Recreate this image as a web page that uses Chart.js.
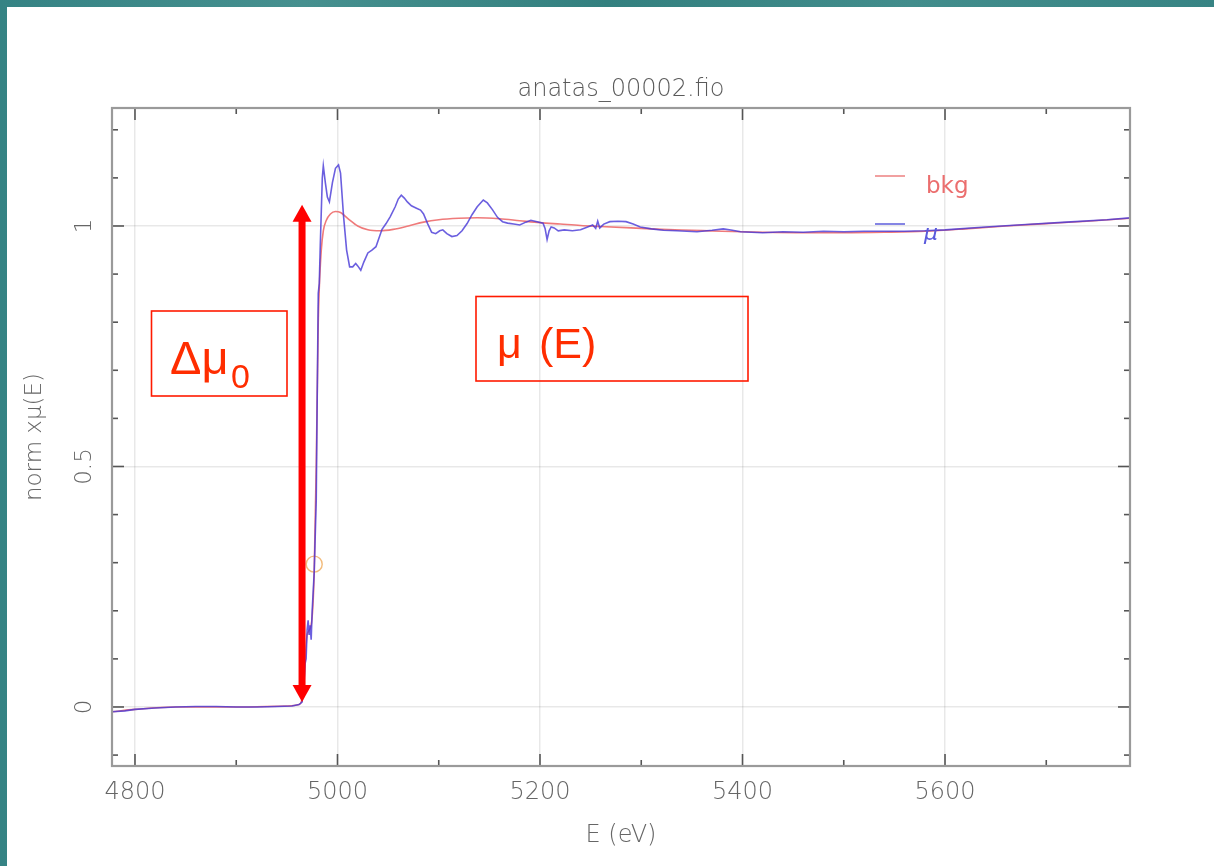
<!DOCTYPE html>
<html><head><meta charset="utf-8">
<script src="https://cdn.jsdelivr.net/npm/chart.js@4.4.1/dist/chart.umd.min.js"></script>
<style>
html,body{margin:0;padding:0;width:1214px;height:866px;overflow:hidden;}
body{background:linear-gradient(90deg,#358384 0%,#46908f 25%,#33807f 50%,#428d8c 75%,#378484 100%);}
#card{position:absolute;left:7px;top:7px;width:1207px;height:859px;background:#fff;}
#c{position:absolute;left:0;top:0;}
</style></head><body>
<div id="card"></div>
<canvas id="c" width="1214" height="866"></canvas>
<script>
// ---- data ----
const muEnergy = [4777,4790,4800,4820,4840,4860,4880,4900,4920,4940,4955,4962,4965,4967,4968,4969,4970,4971,4972,4973,4974,4975,4977,4979,4980,4981,4982,4983,4985,4986,4988,4990,4992,4995,4998,5001,5003,5006,5009,5012,5015,5018,5020,5023,5026,5030,5034,5038,5041,5044,5048,5052,5057,5060,5063,5066,5069,5073,5078,5082,5085,5089,5093,5097,5101,5104,5108,5113,5118,5123,5128,5133,5138,5144,5148,5153,5158,5163,5168,5174,5180,5186,5191,5197,5203,5205,5207,5209,5211,5214,5218,5224,5232,5240,5247,5252,5255,5257,5259,5263,5269,5277,5285,5292,5299,5310,5322,5335,5355,5370,5381,5390,5398,5420,5440,5460,5480,5500,5520,5540,5560,5580,5600,5640,5680,5720,5760,5783];
const muValues = [-0.010,-0.008,-0.005,-0.002,0.000,0.001,0.001,0.000,0.000,0.001,0.002,0.005,0.010,0.05,0.09,0.10,0.16,0.18,0.15,0.17,0.14,0.20,0.28,0.43,0.65,0.86,0.88,0.96,1.10,1.125,1.09,1.06,1.05,1.09,1.12,1.127,1.11,1.02,0.95,0.915,0.915,0.922,0.917,0.908,0.925,0.944,0.950,0.957,0.975,0.993,1.005,1.019,1.040,1.056,1.064,1.058,1.050,1.042,1.037,1.033,1.025,1.005,0.987,0.984,0.990,0.992,0.984,0.978,0.980,0.990,1.005,1.024,1.040,1.054,1.048,1.034,1.018,1.009,1.006,1.004,1.002,1.008,1.012,1.009,1.006,0.995,0.972,0.990,0.998,0.996,0.990,0.992,0.990,0.992,0.998,1.002,0.995,1.010,0.996,1.004,1.009,1.010,1.009,1.004,0.998,0.994,0.991,0.990,0.988,0.991,0.994,0.991,0.988,0.986,0.988,0.987,0.989,0.988,0.989,0.989,0.989,0.990,0.992,0.998,1.003,1.008,1.013,1.017];
const bkgEnergy = [4777,4800,4840,4900,4950,4962,4966,4970,4974,4977,4979,4981,4982,4984,4986,4989,4993,4998,5003,5010,5020,5030,5042,5055,5070,5085,5100,5120,5138,5160,5180,5200,5220,5240,5260,5290,5320,5350,5380,5420,5460,5500,5540,5580,5620,5660,5700,5740,5783];
const bkgValues = [-0.010,-0.005,0.000,0.000,0.002,0.005,0.03,0.15,0.17,0.28,0.50,0.80,0.87,0.95,0.99,1.012,1.025,1.030,1.028,1.016,1.000,0.992,0.990,0.993,1.000,1.008,1.013,1.016,1.017,1.015,1.011,1.007,1.004,1.001,0.999,0.996,0.993,0.991,0.989,0.987,0.986,0.986,0.987,0.989,0.994,1.000,1.005,1.010,1.016];
const e0Energy = [4977];
const e0Value = [0.297];
const xTickValues = [4800,5000,5200,5400,5600];
const xTickLabels = ['4800','5000','5200','5400','5600'];
const xMinorValues = [4900,5100,5300,5500,5700];
const yTickValues = [0,0.5,1];
const yTickLabels = ['0','0.5','1'];
const yMinorValues = [-0.1,0.1,0.2,0.3,0.4,0.6,0.7,0.8,0.9,1.1,1.2];
const xRange = [4777.3,5782.7];
const yRange = [-0.1227,1.2453];
const titleText = 'anatas_00002.fio';
const xTitle = 'E (eV)';
const yTitle = 'norm x\u03bc(E)';
const seriesNames = ['\u03bc','bkg'];
const edgeArrow = {energy:4965, from:0.0104, to:1.044};

// ---- build ----
const toPts = (xs, ys) => xs.map((e,i)=>({x:e, y:ys[i]}));
const FONT = '"DejaVu Sans", sans-serif';

const framePlugin = {
  id:'frame',
  afterDatasetsDraw(chart){
    const {ctx, chartArea:a, scales:{x, y}} = chart;
    ctx.save();
    const line=(x1,y1,x2,y2)=>{ctx.beginPath();ctx.moveTo(x1,y1);ctx.lineTo(x2,y2);ctx.stroke();};
    ctx.strokeStyle='#555'; ctx.lineWidth=1.6;
    xTickValues.forEach(v=>{const p=x.getPixelForValue(v); line(p,a.bottom,p,a.bottom-12); line(p,a.top,p,a.top+12);});
    xMinorValues.forEach(v=>{const p=x.getPixelForValue(v); line(p,a.bottom,p,a.bottom-6); line(p,a.top,p,a.top+6);});
    yTickValues.forEach(v=>{const p=y.getPixelForValue(v); line(a.left,p,a.left+12,p); line(a.right,p,a.right-12,p);});
    yMinorValues.forEach(v=>{const p=y.getPixelForValue(v); line(a.left,p,a.left+6,p); line(a.right,p,a.right-6,p);});
    ctx.strokeStyle='#9a9a9a'; ctx.lineWidth=2.2;
    ctx.strokeRect(a.left,a.top,a.right-a.left,a.bottom-a.top);
    // rotated y tick labels
    ctx.fillStyle='#666'; ctx.font='200 23px '+FONT;
    ctx.textAlign='center'; ctx.textBaseline='middle';
    yTickValues.forEach((v,i)=>{
      const p=y.getPixelForValue(v);
      ctx.save(); ctx.translate(a.left-27,p); ctx.rotate(-Math.PI/2);
      ctx.fillText(yTickLabels[i],0,0); ctx.restore();
    });
    // title centred over the plot frame
    ctx.fillStyle='#5a5a5a'; ctx.font='200 24px '+FONT;
    ctx.textAlign='center'; ctx.textBaseline='middle';
    ctx.fillText(titleText,(a.left+a.right)/2,90);
    ctx.restore();
  }
};

const notePlugin = {
  id:'notes',
  afterDraw(chart){
    const {ctx, chartArea:a, scales:{x, y}} = chart;
    ctx.save();
    // legend
    const ds = chart.data.datasets;
    ctx.lineWidth=2;
    ctx.strokeStyle='rgba(240,150,150,0.9)';
    ctx.beginPath(); ctx.moveTo(875,176); ctx.lineTo(905,176); ctx.stroke();
    ctx.strokeStyle='rgba(120,120,225,0.9)';
    ctx.beginPath(); ctx.moveTo(875,224); ctx.lineTo(905,224); ctx.stroke();
    ctx.textAlign='left'; ctx.textBaseline='alphabetic';
    ctx.fillStyle='rgb(235,110,110)'; ctx.font='23px '+FONT;
    ctx.fillText(ds[1].label, 926, 193);
    ctx.fillStyle='rgb(90,90,220)'; ctx.font='italic 22px '+FONT;
    ctx.fillText(ds[0].label, 924, 240);

    // edge-step double arrow
    const ax = x.getPixelForValue(edgeArrow.energy);
    const yt = y.getPixelForValue(edgeArrow.to);
    const yb = y.getPixelForValue(edgeArrow.from);
    ctx.fillStyle='#ff0000';
    ctx.fillRect(ax-3.5, yt+15, 7, (yb-yt)-30);
    ctx.beginPath(); ctx.moveTo(ax,yt); ctx.lineTo(ax-9.5,yt+17); ctx.lineTo(ax+9.5,yt+17); ctx.closePath(); ctx.fill();
    ctx.beginPath(); ctx.moveTo(ax,yb); ctx.lineTo(ax-9.5,yb-17); ctx.lineTo(ax+9.5,yb-17); ctx.closePath(); ctx.fill();

    // boxes
    ctx.strokeStyle='#ff1a00'; ctx.lineWidth=1.6;
    ctx.strokeRect(151.5,311,135.5,85);
    ctx.strokeRect(476,296.5,272,84.5);
    ctx.fillStyle='rgb(255,45,0)';
    ctx.font='47px "Liberation Sans", Arial, sans-serif';
    ctx.fillText('\u0394\u03bc', 170, 374);
    ctx.font='34px "Liberation Sans", Arial, sans-serif';
    ctx.fillText('0', 231, 388);
    ctx.font='43px "Liberation Sans", Arial, sans-serif';
    ctx.fillText('\u03bc', 497, 358);
    ctx.fillText('(E)', 539, 358);
    ctx.restore();
  }
};

new Chart(document.getElementById('c'), {
  type:'scatter',
  data:{
    datasets:[
      {label:seriesNames[0], data:toPts(muEnergy,muValues), showLine:true, borderColor:'rgba(70,55,215,0.8)', borderWidth:1.6, pointRadius:0, tension:0, order:0},
      {label:seriesNames[1], data:toPts(bkgEnergy,bkgValues), showLine:true, borderColor:'rgba(238,115,115,0.95)', borderWidth:1.6, pointRadius:0, cubicInterpolationMode:'monotone', order:1},
      {label:'E0', data:toPts(e0Energy,e0Value), showLine:false, pointRadius:8, pointHoverRadius:8, pointStyle:'circle', borderColor:'rgba(240,175,100,0.85)', backgroundColor:'rgba(0,0,0,0)', borderWidth:1.4, order:2}
    ]
  },
  options:{
    responsive:false, animation:false, events:[],
    layout:{padding:{left:0, right:84, top:108, bottom:0}},
    plugins:{
      legend:{display:false}, tooltip:{enabled:false}, title:{display:false}
    },
    scales:{
      x:{type:'linear', min:xRange[0], max:xRange[1],
         afterBuildTicks:s=>{s.ticks = xTickValues.map(v=>({value:v}));},
         afterFit:s=>{s.height=100;},
         grid:{color:'rgba(0,0,0,0.09)', lineWidth:1.5, drawTicks:false},
         border:{display:false},
         ticks:{color:'#666', padding:12, maxRotation:0, autoSkip:false, font:{family:FONT, size:24, weight:'200'},
                callback:(v)=>{const i=xTickValues.indexOf(v); return i>=0?xTickLabels[i]:'';}},
         title:{display:true, text:xTitle, color:'#666', font:{family:FONT, size:24, weight:'200'}, padding:{top:0, bottom:16}}
      },
      y:{type:'linear', min:yRange[0], max:yRange[1],
         afterBuildTicks:s=>{s.ticks = yTickValues.map(v=>({value:v}));},
         afterFit:s=>{s.width=112;},
         grid:{color:'rgba(0,0,0,0.09)', lineWidth:1.5, drawTicks:false},
         border:{display:false},
         ticks:{display:false},
         title:{display:true, text:yTitle, color:'#666', font:{family:FONT, size:23, weight:'200'}, padding:{top:21, bottom:0}}
      }
    }
  },
  plugins:[framePlugin, notePlugin]
});
</script>
</body></html>
